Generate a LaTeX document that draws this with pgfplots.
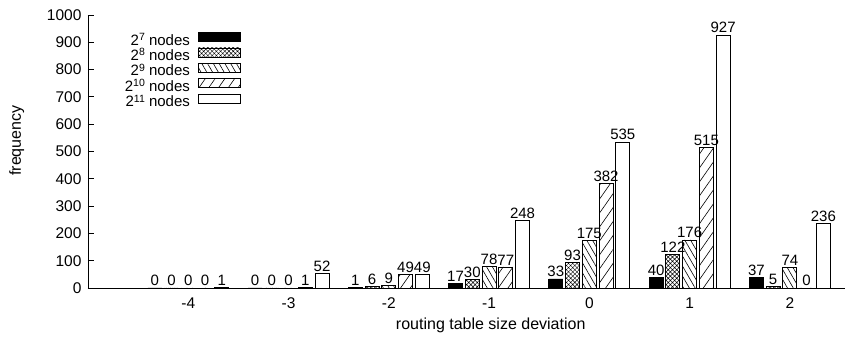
\documentclass[border=0pt]{standalone}
\usepackage{pgfplots}
\pgfplotsset{compat=1.18}
\usepackage{fontspec}
\setmainfont{Liberation Sans}
\usetikzlibrary{patterns.meta}
\newcommand{\sq}[1]{2\raisebox{0.3em}{\fontsize{10.5}{11}\selectfont #1}}
\begin{document}
\begin{tikzpicture}
\begin{axis}[
 scale only axis, width=757pt, height=273pt,
 xmin=-5, xmax=2.55, ymin=0, ymax=1000,
 axis x line=bottom, axis y line=left,
 axis line style={-, line width=0.8pt},
 xtick={-4,-3,-2,-1,0,1,2}, xticklabels={-4,-3,-2,-1,0,1,2},
 ytick={0,100,...,1000}, yticklabels={0,100,200,300,400,500,600,700,800,900,1000},
 x tick style={draw=none}, y tick style={line width=0.8pt, black},
 tick align=inside, major tick length=6pt,
 tick label style={font=\fontsize{15.5}{17}\selectfont},
 yticklabel style={xshift=-3pt},
 /pgf/number format/assume math mode=true,
 xlabel={routing table size deviation}, ylabel={frequency},
 label style={font=\fontsize{16}{18}\selectfont},
 xlabel style={at={(axis description cs:0.532,-0.1355)}, anchor=center},
 ylabel style={at={(axis description cs:-0.094,0.54)}, anchor=center},
 ybar=2.75pt, bar width=14pt,
 nodes near coords,
 every node near coord/.append style={font=\fontsize{15}{17}\selectfont, inner sep=1.5pt, black},
 legend style={at={(axis description cs:0.202,0.938)}, anchor=north east, draw=none, fill=none,
   font=\fontsize{15}{17}\selectfont, row sep=-1.5pt, column sep=8pt, inner sep=0pt,
   nodes={inner sep=0pt, text height=11pt, text depth=4pt}},
 legend image code/.code={\draw[#1,line width=0.8pt] (0pt,0pt) rectangle (42pt,9pt);},
 legend plot pos=right, legend cell align=right,
]
\addplot[draw=black, line width=0.8pt, fill=black] coordinates {(-4,0) (-3,0) (-2,1) (-1,17) (0,33) (1,40) (2,37)};
\addlegendentry{\sq{7} nodes}
\addplot[draw=black, line width=0.8pt, pattern={Hatch[angle=45,distance=3pt,line width=0.5pt]}] coordinates {(-4,0) (-3,0) (-2,6) (-1,30) (0,93) (1,122) (2,5)};
\addlegendentry{\sq{8} nodes}
\addplot[draw=black, line width=0.8pt, pattern={Lines[angle=-60,distance=5pt,line width=0.6pt]}] coordinates {(-4,0) (-3,0) (-2,9) (-1,78) (0,175) (1,176) (2,74)};
\addlegendentry{\sq{9} nodes}
\addplot[draw=black, line width=0.8pt, pattern={Lines[angle=55,distance=8pt,line width=0.6pt]}] coordinates {(-4,0) (-3,1) (-2,49) (-1,77) (0,382) (1,515) (2,0)};
\addlegendentry{\sq{10} nodes}
\addplot[draw=black, line width=0.8pt, fill=white] coordinates {(-4,1) (-3,52) (-2,49) (-1,248) (0,535) (1,927) (2,236)};
\addlegendentry{\sq{11} nodes}
\end{axis}
\pgfresetboundingbox
\path ([shift={(-88pt,-56pt)}]current axis.south west) rectangle ([shift={(0pt,15pt)}]current axis.north east);
\end{tikzpicture}
\end{document}
